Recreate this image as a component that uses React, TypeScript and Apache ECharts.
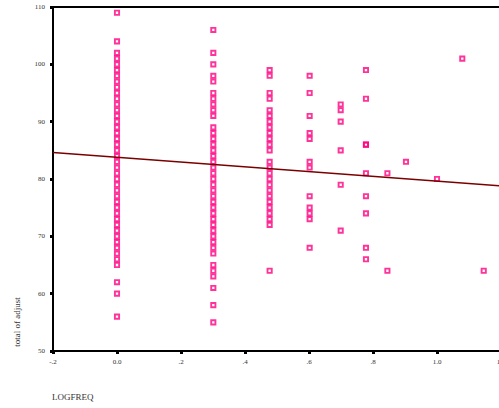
import React, { useEffect, useRef } from "react";
import * as echarts from "echarts";

// log10 of frequency for each column of points
const logFreq = [0, 0.301, 0.477, 0.602, 0.699, 0.778, 0.845, 0.903, 1.0, 1.079, 1.146];

// total of adjust values for each logFreq column
const totals0 = [109, 104, 102, 101, 100, 99, 98, 97, 96, 95, 94, 93, 92, 91, 90, 89, 88, 87, 86, 85, 84, 83, 82, 81, 80, 79, 78, 77, 76, 75, 74, 73, 72, 71, 70, 69, 68, 67, 66, 65, 62, 60, 56];
const totals1 = [106, 102, 100, 98, 97, 95, 94, 93, 92, 91, 89, 88, 87, 86, 85, 84, 83, 82, 81, 80, 79, 78, 77, 76, 75, 74, 73, 72, 71, 70, 69, 68, 67, 65, 64, 63, 61, 58, 55];
const totals2 = [99, 98, 95, 94, 92, 91, 90, 89, 88, 87, 86, 85, 83, 82, 81, 80, 79, 78, 77, 76, 75, 74, 73, 72, 64];
const totals3 = [98, 95, 91, 88, 87, 83, 82, 77, 75, 74, 73, 68];
const totals4 = [93, 92, 90, 85, 79, 71];
const totals5 = [99, 94, 86, 86, 81, 77, 74, 68, 66];
const totals6 = [81, 64];
const totals7 = [83];
const totals8 = [80];
const totals9 = [101];
const totals10 = [64];
const totalsByColumn = [totals0, totals1, totals2, totals3, totals4, totals5, totals6, totals7, totals8, totals9, totals10];

// fitted regression line
const fitIntercept = 83.8;
const fitSlope = -4.17;
const fitRange = [-0.2, 1.2];

const xTicks = { min: -0.2, max: 1.2, interval: 0.2 };
const yTicks = { min: 50, max: 110, interval: 10 };

const xLabel = "LOGFREQ";
const yLabel = "total of adjust";

function fmtX(v: number): string {
  if (Math.abs(v) < 1e-9) return "0.0";
  const s = v.toFixed(1);
  if (Math.abs(v) < 1) return s.replace("0.", ".");
  return s;
}

export default function App() {
  const ref = useRef<HTMLDivElement>(null);
  useEffect(() => {
    if (!ref.current) return;
    const chart = echarts.init(ref.current, null, { renderer: "svg" });
    const points: number[][] = [];
    logFreq.forEach((x, i) => {
      totalsByColumn[i].forEach((y) => points.push([x, y]));
    });
    const fitData = fitRange.map((x) => [x, fitIntercept + fitSlope * x]);
    const font = "'Liberation Serif', 'DejaVu Serif', serif";
    chart.setOption({
      animation: false,
      backgroundColor: "#ffffff",
      grid: {
        left: 53,
        top: 7,
        width: 448,
        height: 344,
        outerBoundsMode: "none",
        containLabel: false,
        show: true,
        borderColor: "#000",
        borderWidth: 2,
        backgroundColor: "transparent",
      },
      xAxis: {
        type: "value",
        min: xTicks.min,
        max: xTicks.max,
        interval: xTicks.interval,
        splitLine: { show: false },
        axisLine: { onZero: false, lineStyle: { color: "#000", width: 2 } },
        axisTick: { length: 3, lineStyle: { color: "#000", width: 3 } },
        axisLabel: {
          formatter: fmtX,
          fontFamily: font,
          fontSize: 7,
          color: "#333",
          margin: 7,
          showMaxLabel: true,
          showMinLabel: true,
        },
      },
      yAxis: {
        type: "value",
        min: yTicks.min,
        max: yTicks.max,
        interval: yTicks.interval,
        splitLine: { show: false },
        axisLine: { onZero: false, lineStyle: { color: "#000", width: 2 } },
        axisTick: { length: 3, lineStyle: { color: "#000", width: 3 } },
        axisLabel: {
          fontFamily: font,
          fontSize: 7,
          color: "#333",
          margin: 8,
        },
      },
      series: [
        {
          type: "scatter",
          data: points,
          symbol: "rect",
          symbolSize: 4.2,
          itemStyle: {
            color: "rgba(255,255,255,0)",
            borderColor: "#ff0080",
            borderWidth: 1.9,
          },
          z: 2,
        },
        {
          type: "line",
          data: fitData,
          symbol: "none",
          lineStyle: { color: "#7a0000", width: 1.4 },
          z: 3,
        },
      ],
      graphic: [
        {
          type: "text",
          x: 17,
          y: 322,
          rotation: Math.PI / 2,
          style: {
            text: yLabel,
            fontFamily: font,
            fontSize: 9,
            fontWeight: "normal",
            fill: "#333",
            align: "center",
            verticalAlign: "middle",
          },
        },
        {
          type: "text",
          x: 52,
          y: 397,
          style: {
            text: xLabel,
            fontFamily: font,
            fontSize: 9,
            fontWeight: "normal",
            fill: "#333",
            align: "left",
            verticalAlign: "middle",
          },
        },
      ],
    });
    return () => chart.dispose();
  }, []);
  return <div ref={ref} style={{ width: 499, height: 408, position: "absolute", left: 0, top: 0 }} />;
}
